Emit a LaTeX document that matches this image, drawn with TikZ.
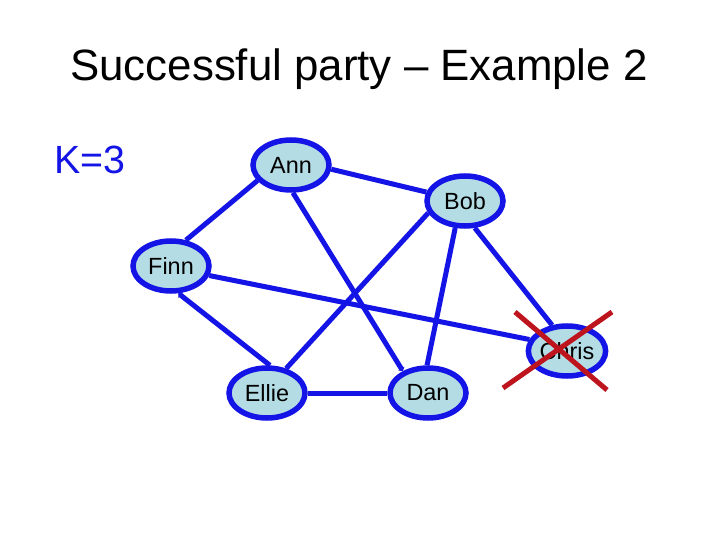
\documentclass[tikz,border=0pt]{standalone}
\usepackage{fontspec}
\setmainfont{Liberation Sans}
\usetikzlibrary{shapes.geometric,arrows.meta}
\pgfdeclarelayer{paper}
\pgfdeclarelayer{edges}
\pgfsetlayers{paper,edges,main}
\definecolor{edgeblue}{RGB}{20,20,230}
\definecolor{nodefill}{RGB}{180,220,228}
\definecolor{crossred}{RGB}{190,20,30}
\tikzset{
  person/.style={ellipse, draw=edgeblue, line width=5.5bp, fill=nodefill,
    minimum width=76bp, minimum height=50bp, inner sep=0pt,
    font=\fontsize{23.5}{28}\selectfont},
  link/.style={draw=edgeblue, line width=5bp},
  smalltip/.style={-{Triangle[length=3bp,width=7bp]}},
  crossline/.style={draw=crossred, line width=5bp}
}
\begin{document}
\begin{tikzpicture}[x=1bp,y=-1bp]
\useasboundingbox (0,0) rectangle (720,540);
\begin{pgfonlayer}{paper}
\fill[white] (0,0) rectangle (720,540);
\end{pgfonlayer}
\node[anchor=base, font=\fontsize{44}{53}\selectfont] (title) at (359,81) {Successful party – Example 2};
\node[anchor=base west, inner sep=0pt, text=edgeblue, font=\fontsize{39.5}{47}\selectfont] (k) at (54.5,174) {K=3};

\node[person] (ann) at (291,165) {Ann};
\node[person] (bob) at (465,201) {Bob};
\node[person] (finn) at (171,266) {Finn};
\node[person] (chris) at (567,351) {Chris};
\node[person] (ellie) at (267,393) {Ellie};
\node[person] (dan) at (428,393) {Dan};

\begin{pgfonlayer}{edges}
\draw[link] (ann.-6) -- (bob.167);
\draw[link] (ann.205) -- (finn.60);
\draw[link,smalltip] (ann.-86) -- (dan.139);
\draw[link] (bob.198) -- (ellie.52);
\draw[link] (bob.250) -- (dan.92);
\draw[link] (bob.290) -- (chris.120);
\draw[link] (finn.-14) -- (chris.163);
\draw[link,smalltip] (ellie.84) -- (finn.-75);
\draw[link] (ellie.east) -- (dan.west);
\end{pgfonlayer}

\coordinate (c1) at (515,312);
\coordinate (c2) at (607,390);
\coordinate (c3) at (612,312);
\coordinate (c4) at (503,388);
\draw[crossline] (c1) -- (c2);
\draw[crossline] (c3) -- (c4);
\end{tikzpicture}
\end{document}
